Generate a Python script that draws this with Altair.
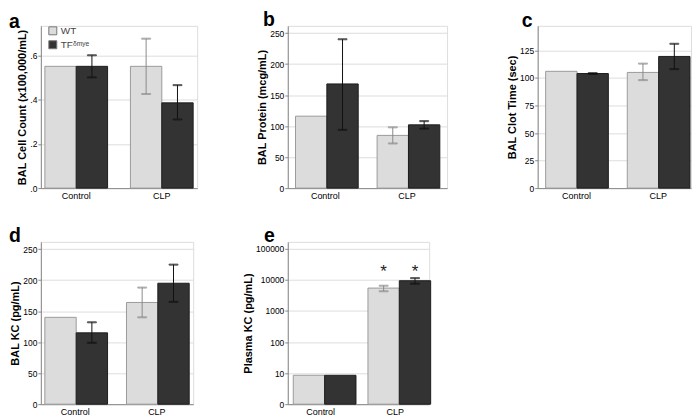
import altair as alt
import pandas as pd

FONT = "Liberation Sans"

groups = ["Control", "Control", "CLP", "CLP"]
TF = "TF\u1d5f\u1d50\u02b8\u1d49"
genotypes = ["WT", TF, "WT", TF]

a_mean = [0.55, 0.55, 0.55, 0.385]
a_lo = [None, 0.50, 0.425, 0.31]
a_hi = [None, 0.60, 0.675, 0.465]

b_mean = [116, 168, 85, 102]
b_lo = [None, 94, 72, 96]
b_hi = [None, 240, 98, 108]

c_mean = [106, 104, 105, 119.5]
c_lo = [None, 103.6, 98, 108]
c_hi = [None, 104.4, 113, 131]

d_mean = [140, 115, 164, 195]
d_lo = [None, 99, 140, 165]
d_hi = [None, 132, 188, 225]

e_mean = [8.5, 8.5, 5450, 9400]
e_lo = [None, None, 4300, 7550]
e_hi = [None, None, 6500, 11400]
e_star = [None, None, "*", "*"]

geno_order = ["WT", TF]
bar_fill = ["#dcdcdc", "#333333"]
bar_edge = {"WT": "#9a9a9a", TF: "#1e1e1e"}
err_col = {"WT": "#8a8a8a", TF: "#111111"}


def panel(mean, lo, hi, ytitle, letter, dx, toff, width, pi, po, align, ydomain, yticks,
          label_expr=None, log=False, legend=False, star=None):
    df = pd.DataFrame({
        "group": groups, "geno": genotypes, "mean": mean, "lo": lo, "hi": hi,
        "base": [1 if log else 0] * 4,
        "bstroke": [bar_edge[g] for g in genotypes],
        "ecol": [err_col[g] for g in genotypes],
    })
    if star is not None:
        df["star"] = star
    xenc = alt.X("group:N", sort=["Control", "CLP"],
                 scale=alt.Scale(paddingInner=pi, paddingOuter=po, align=align),
                 axis=alt.Axis(title=None, labelAngle=0, ticks=False, labelPadding=3,
                               labelFontSize=9))
    xoff = alt.XOffset("geno:N", sort=geno_order,
                       scale=alt.Scale(paddingInner=0, paddingOuter=0))
    if log:
        yscale = alt.Scale(type="log", domain=ydomain, nice=False)
    else:
        yscale = alt.Scale(domain=ydomain, nice=False, zero=True)
    axkw = dict(title=ytitle, values=yticks, tickSize=3, labelPadding=1, titlePadding=2,
                labelFontSize=8.5)
    if label_expr:
        axkw["labelExpr"] = label_expr
    yaxis = alt.Axis(**axkw)

    def Y(field):
        return alt.Y(field, type="quantitative", scale=yscale, axis=yaxis)

    if legend:
        leg = alt.Legend(orient="none", legendX=7, legendY=0, title=None,
                         symbolType="square", symbolSize=64, labelFontSize=10,
                         labelFont=FONT, labelColor="#444", symbolStrokeColor="#777",
                         symbolStrokeWidth=1, rowPadding=2, labelOffset=3, padding=0)
    else:
        leg = None
    base = alt.Chart(df)
    bars = base.mark_bar(strokeWidth=1).encode(
        x=xenc, xOffset=xoff,
        y=Y("mean"), y2="base:Q",
        color=alt.Color("geno:N", sort=geno_order,
                        scale=alt.Scale(domain=geno_order, range=bar_fill), legend=leg),
        stroke=alt.Stroke("bstroke:N", scale=None),
    )
    eb = base.transform_filter("isValid(datum.lo)")
    rule = eb.mark_rule(strokeWidth=1).encode(
        x=xenc, xOffset=xoff, y=Y("lo"), y2="hi:Q",
        stroke=alt.Stroke("ecol:N", scale=None))
    cap_lo = eb.mark_tick(thickness=1, size=9).encode(
        x=xenc, xOffset=xoff, y=Y("lo"), stroke=alt.Stroke("ecol:N", scale=None),
        fill=alt.Fill("ecol:N", scale=None))
    cap_hi = eb.mark_tick(thickness=1, size=9).encode(
        x=xenc, xOffset=xoff, y=Y("hi"), stroke=alt.Stroke("ecol:N", scale=None),
        fill=alt.Fill("ecol:N", scale=None))
    layers = [bars, rule, cap_lo, cap_hi]
    if star is not None:
        st = base.transform_filter("isValid(datum.star)").mark_text(
            fontSize=17, font=FONT, baseline="middle", dy=3, color="#222").encode(
            x=xenc, xOffset=xoff, y=alt.Y(datum=23000, scale=yscale, axis=yaxis),
            text="star:N")
        layers.append(st)
    return alt.layer(*layers).properties(
        width=width, height=163,
        title=alt.TitleParams(letter, anchor="start", frame="group", dx=dx,
                              fontSize=19.5, fontWeight="bold", font=FONT,
                              baseline="alphabetic", offset=toff, color="black"),
    )


pa = panel(a_mean, a_lo, a_hi, "BAL Cell Count (x100,000/mL)", "a", -32, -22, 157,
           0.267, 0.047, 0.5, [0, 0.733], [0, 0.2, 0.4, 0.6],
           label_expr="replace(format(datum.value, '.1f'), '0.', '.')", legend=True)
pb = panel(b_mean, b_lo, b_hi, "BAL Protein (mcg/mL)", "b", -25, -19.5, 160,
           0.268, 0.11, 0.43, [0, 261.7], [0, 50, 100, 150, 200, 250])
pc = panel(c_mean, c_lo, c_hi, "BAL Clot Time (sec)", "c", -16, -21, 154,
           0.244, 0.061, 0.8, [0, 147.3], [0, 25, 50, 75, 100, 125])
pd_ = panel(d_mean, d_lo, d_hi, "BAL KC (pg/mL)", "d", -32, -19.5, 153,
            0.256, 0.061, 0.4, [0, 261.7], [0, 50, 100, 150, 200, 250])
pe = panel(e_mean, e_lo, e_hi, "Plasma KC (pg/mL)", "e", -24, -19.5, 142,
           0.267, 0.08, 0.46, [1, 167500], [1, 10, 100, 1000, 10000, 100000],
           label_expr="datum.value == 1 ? '0' : format(datum.value, 'd')",
           log=True, star=e_star)

chart = alt.concat(pa, pb, pc, pd_, pe, columns=3,
                   spacing={"row": 54, "column": 91}, bounds="flush").resolve_scale(
    color="independent").properties(padding=0).configure_axis(
    domainColor="#808080", domainWidth=1.6, tickColor="#808080", tickWidth=1,
    labelFont=FONT, labelColor="#000",
    titleFont=FONT, titleFontSize=10, titleFontWeight="bold", titleColor="#111",
    grid=False,
).configure_view(stroke=None).configure(background="white")

chart.save("out.html", embed_options={"renderer": "svg", "actions": False})
